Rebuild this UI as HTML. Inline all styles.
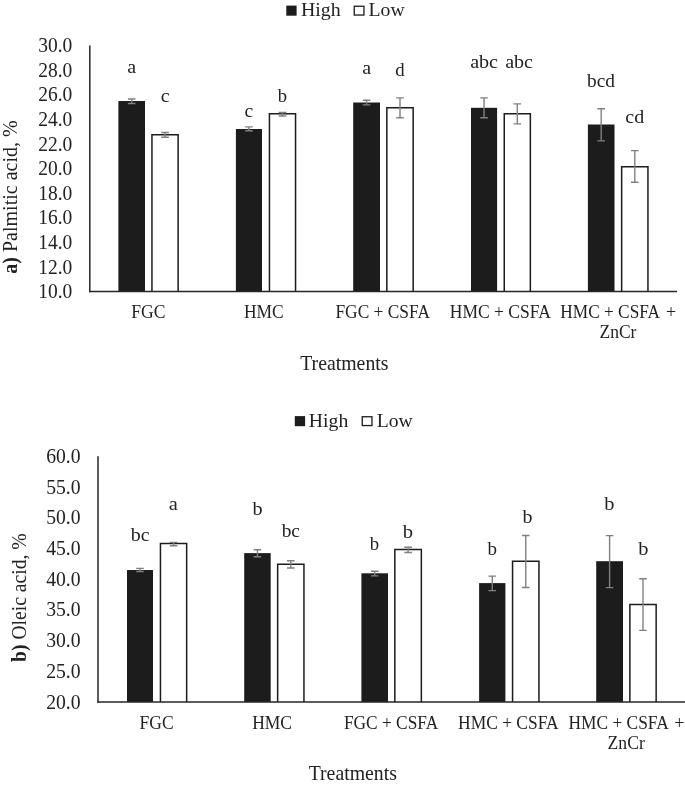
<!DOCTYPE html>
<html><head><meta charset="utf-8"><title>Chart</title>
<style>
html,body{margin:0;padding:0;background:#fff;overflow:hidden;}
svg{display:block;will-change:transform;}
text{font-family:"Liberation Serif",serif;fill:#222;}
</style></head>
<body>
<svg width="685" height="786" viewBox="0 0 685 786">
<rect width="685" height="786" fill="#fff"/>
<g id="chartA">
<rect x="118.4" y="101.0" width="26.60" height="190.60" fill="#1c1c1c"/>
<path d="M151.95 291.6V134.80H178.15V291.6" fill="#fff" stroke="#1c1c1c" stroke-width="1.5"/>
<rect x="235.9" y="129.0" width="26.10" height="162.60" fill="#1c1c1c"/>
<path d="M269.45 291.6V113.75H295.55V291.6" fill="#fff" stroke="#1c1c1c" stroke-width="1.5"/>
<rect x="353.2" y="102.5" width="26.80" height="189.10" fill="#1c1c1c"/>
<path d="M386.85 291.6V107.71H413.15V291.6" fill="#fff" stroke="#1c1c1c" stroke-width="1.5"/>
<rect x="471.0" y="107.8" width="26.10" height="183.80" fill="#1c1c1c"/>
<path d="M504.25 291.6V113.75H530.35V291.6" fill="#fff" stroke="#1c1c1c" stroke-width="1.5"/>
<rect x="587.9" y="124.5" width="26.60" height="167.10" fill="#1c1c1c"/>
<path d="M621.65 291.6V166.75H647.95V291.6" fill="#fff" stroke="#1c1c1c" stroke-width="1.5"/>
<line x1="89.8" y1="45.4" x2="89.8" y2="292.3" stroke="#262626" stroke-width="1.5"/>
<line x1="89.1" y1="291.6" x2="677.0" y2="291.6" stroke="#262626" stroke-width="1.5"/>
<path d="M131.70 99.0V103.5M127.90 99.0H135.50M127.90 103.5H135.50" stroke="#808080" stroke-width="1.4" fill="none"/>
<path d="M165.05 132.5V137.3M161.25 132.5H168.85M161.25 137.3H168.85" stroke="#808080" stroke-width="1.4" fill="none"/>
<path d="M248.95 126.9V130.7M245.15 126.9H252.75M245.15 130.7H252.75" stroke="#808080" stroke-width="1.4" fill="none"/>
<path d="M282.50 112.5V116.0M278.70 112.5H286.30M278.70 116.0H286.30" stroke="#808080" stroke-width="1.4" fill="none"/>
<path d="M366.60 100.2V104.85M362.80 100.2H370.40M362.80 104.85H370.40" stroke="#808080" stroke-width="1.4" fill="none"/>
<path d="M400.00 97.85V117.7M396.20 97.85H403.80M396.20 117.7H403.80" stroke="#808080" stroke-width="1.4" fill="none"/>
<path d="M484.05 97.85V117.8M480.25 97.85H487.85M480.25 117.8H487.85" stroke="#808080" stroke-width="1.4" fill="none"/>
<path d="M517.30 103.9V123.9M513.50 103.9H521.10M513.50 123.9H521.10" stroke="#808080" stroke-width="1.4" fill="none"/>
<path d="M601.20 108.8V140.9M597.40 108.8H605.00M597.40 140.9H605.00" stroke="#808080" stroke-width="1.4" fill="none"/>
<path d="M634.80 150.6V182.3M631.00 150.6H638.60M631.00 182.3H638.60" stroke="#808080" stroke-width="1.4" fill="none"/>
<text transform="translate(38.20 52.10) scale(0.9743 1)" font-size="20">30.0</text>
<text transform="translate(38.20 76.72) scale(0.9743 1)" font-size="20">28.0</text>
<text transform="translate(38.20 101.34) scale(0.9743 1)" font-size="20">26.0</text>
<text transform="translate(38.20 125.96) scale(0.9743 1)" font-size="20">24.0</text>
<text transform="translate(38.20 150.58) scale(0.9743 1)" font-size="20">22.0</text>
<text transform="translate(38.20 175.20) scale(0.9743 1)" font-size="20">20.0</text>
<text transform="translate(38.20 199.82) scale(0.9743 1)" font-size="20">18.0</text>
<text transform="translate(38.20 224.44) scale(0.9743 1)" font-size="20">16.0</text>
<text transform="translate(38.20 249.06) scale(0.9743 1)" font-size="20">14.0</text>
<text transform="translate(38.20 273.68) scale(0.9743 1)" font-size="20">12.0</text>
<text transform="translate(38.20 298.30) scale(0.9743 1)" font-size="20">10.0</text>
<text transform="translate(127.15 73.10) scale(1.0204 1)" font-size="19.6">a</text>
<text transform="translate(160.75 101.70) scale(1.0204 1)" font-size="19.6">c</text>
<text transform="translate(244.55 117.00) scale(0.9975 1)" font-size="19.6">c</text>
<text transform="translate(277.75 102.30) scale(0.9490 1)" font-size="19.6">b</text>
<text transform="translate(362.15 74.20) scale(1.0204 1)" font-size="19.6">a</text>
<text transform="translate(395.15 75.70) scale(0.9592 1)" font-size="19.6">d</text>
<text transform="translate(470.15 67.80) scale(1.0259 1)" font-size="19.6">abc</text>
<text transform="translate(505.15 67.80) scale(1.0259 1)" font-size="19.6">abc</text>
<text transform="translate(587.05 86.50) scale(0.9886 1)" font-size="19.6">bcd</text>
<text transform="translate(625.35 123.00) scale(1.0204 1)" font-size="19.6">cd</text>
<text transform="translate(131.35 317.80) scale(0.9505 1)" font-size="18.5">FGC</text>
<text transform="translate(243.95 317.80) scale(0.9446 1)" font-size="18.5">HMC</text>
<text transform="translate(335.45 317.80) scale(0.9404 1)" font-size="18.5">FGC + CSFA</text>
<text transform="translate(449.85 317.90) scale(0.9471 1)" font-size="18.5">HMC + CSFA</text>
<text transform="translate(560.35 317.90) scale(0.9349 1)" font-size="18.5">HMC + CSFA</text>
<text transform="translate(665.95 317.90) scale(0.9663 1)" font-size="18.5">+</text>
<text transform="translate(599.45 338.20) scale(0.9479 1)" font-size="18.5">ZnCr</text>
<text transform="translate(300.15 369.70) scale(0.9905 1)" font-size="20">Treatments</text>
<text transform="translate(16.50 273.70) rotate(-90) scale(1.0006 1)" font-size="20"><tspan font-weight="bold">a)</tspan> Palmitic acid, %</text>
<rect x="286.3" y="5.6" width="10.3" height="10.1" fill="#1c1c1c"/>
<text transform="translate(300.90 15.60) scale(1.0461 1)" font-size="19">High</text>
<rect x="354.25" y="6.25" width="9.7" height="8.799999999999999" fill="#fff" stroke="#1c1c1c" stroke-width="1.3"/>
<text transform="translate(368.45 15.60) scale(1.0397 1)" font-size="19">Low</text>
</g>
<g id="chartB">
<rect x="127.0" y="570.0" width="26.00" height="132.00" fill="#1c1c1c"/>
<path d="M160.45 702.0V543.50H186.65V702.0" fill="#fff" stroke="#1c1c1c" stroke-width="1.5"/>
<rect x="244.2" y="553.1" width="26.50" height="148.90" fill="#1c1c1c"/>
<path d="M277.65 702.0V564.15H303.95V702.0" fill="#fff" stroke="#1c1c1c" stroke-width="1.5"/>
<rect x="361.4" y="573.3" width="26.60" height="128.70" fill="#1c1c1c"/>
<path d="M394.85 702.0V549.55H421.35V702.0" fill="#fff" stroke="#1c1c1c" stroke-width="1.5"/>
<rect x="479.1" y="583.1" width="26.30" height="118.90" fill="#1c1c1c"/>
<path d="M512.55 702.0V561.35H538.95V702.0" fill="#fff" stroke="#1c1c1c" stroke-width="1.5"/>
<rect x="596.2" y="561.2" width="26.80" height="140.80" fill="#1c1c1c"/>
<path d="M629.85 702.0V604.55H656.15V702.0" fill="#fff" stroke="#1c1c1c" stroke-width="1.5"/>
<line x1="98.0" y1="456.2" x2="98.0" y2="702.7" stroke="#262626" stroke-width="1.5"/>
<line x1="97.3" y1="702.0" x2="686" y2="702.0" stroke="#262626" stroke-width="1.5"/>
<path d="M140.00 568.4V571.5M136.20 568.4H143.80M136.20 571.5H143.80" stroke="#808080" stroke-width="1.4" fill="none"/>
<path d="M173.55 542.4V545.7M169.75 542.4H177.35M169.75 545.7H177.35" stroke="#808080" stroke-width="1.4" fill="none"/>
<path d="M257.45 549.7V556.8M253.65 549.7H261.25M253.65 556.8H261.25" stroke="#808080" stroke-width="1.4" fill="none"/>
<path d="M290.80 560.7V568.05M287.00 560.7H294.60M287.00 568.05H294.60" stroke="#808080" stroke-width="1.4" fill="none"/>
<path d="M374.70 571.2V575.9M370.90 571.2H378.50M370.90 575.9H378.50" stroke="#808080" stroke-width="1.4" fill="none"/>
<path d="M408.10 547.3V552.5M404.30 547.3H411.90M404.30 552.5H411.90" stroke="#808080" stroke-width="1.4" fill="none"/>
<path d="M492.25 576.1V590.6M488.45 576.1H496.05M488.45 590.6H496.05" stroke="#808080" stroke-width="1.4" fill="none"/>
<path d="M525.75 535.5V587.5M521.95 535.5H529.55M521.95 587.5H529.55" stroke="#808080" stroke-width="1.4" fill="none"/>
<path d="M609.60 535.6V587.6M605.80 535.6H613.40M605.80 587.6H613.40" stroke="#808080" stroke-width="1.4" fill="none"/>
<path d="M643.00 578.7V630.4M639.20 578.7H646.80M639.20 630.4H646.80" stroke="#808080" stroke-width="1.4" fill="none"/>
<text transform="translate(46.20 462.80) scale(0.9829 1)" font-size="20">60.0</text>
<text transform="translate(46.20 493.53) scale(0.9829 1)" font-size="20">55.0</text>
<text transform="translate(46.20 524.25) scale(0.9829 1)" font-size="20">50.0</text>
<text transform="translate(46.20 554.98) scale(0.9829 1)" font-size="20">45.0</text>
<text transform="translate(46.20 585.70) scale(0.9829 1)" font-size="20">40.0</text>
<text transform="translate(46.20 616.43) scale(0.9829 1)" font-size="20">35.0</text>
<text transform="translate(46.20 647.15) scale(0.9829 1)" font-size="20">30.0</text>
<text transform="translate(46.20 677.88) scale(0.9829 1)" font-size="20">25.0</text>
<text transform="translate(46.20 708.60) scale(0.9829 1)" font-size="20">20.0</text>
<text transform="translate(130.75 541.10) scale(1.0150 1)" font-size="19.6">bc</text>
<text transform="translate(168.75 510.40) scale(1.0433 1)" font-size="19.6">a</text>
<text transform="translate(252.45 514.80) scale(1.0306 1)" font-size="19.6">b</text>
<text transform="translate(281.65 537.30) scale(0.9880 1)" font-size="19.6">bc</text>
<text transform="translate(369.85 550.40) scale(0.9592 1)" font-size="19.6">b</text>
<text transform="translate(402.85 537.60) scale(1.0510 1)" font-size="19.6">b</text>
<text transform="translate(487.45 554.80) scale(0.9694 1)" font-size="19.6">b</text>
<text transform="translate(522.55 523.00) scale(1.0204 1)" font-size="19.6">b</text>
<text transform="translate(604.35 509.70) scale(1.0408 1)" font-size="19.6">b</text>
<text transform="translate(638.15 554.50) scale(1.0408 1)" font-size="19.6">b</text>
<text transform="translate(139.55 728.60) scale(0.9477 1)" font-size="18.5">FGC</text>
<text transform="translate(252.15 728.60) scale(0.9470 1)" font-size="18.5">HMC</text>
<text transform="translate(343.95 728.60) scale(0.9374 1)" font-size="18.5">FGC + CSFA</text>
<text transform="translate(458.05 728.60) scale(0.9434 1)" font-size="18.5">HMC + CSFA</text>
<text transform="translate(568.55 728.60) scale(0.9396 1)" font-size="18.5">HMC + CSFA</text>
<text transform="translate(674.35 728.60) scale(0.9758 1)" font-size="18.5">+</text>
<text transform="translate(607.55 748.80) scale(0.9530 1)" font-size="18.5">ZnCr</text>
<text transform="translate(308.65 780.00) scale(0.9894 1)" font-size="20">Treatments</text>
<text transform="translate(25.80 661.90) rotate(-90) scale(0.9811 1)" font-size="20"><tspan font-weight="bold">b)</tspan> Oleic acid, %</text>
<rect x="294.8" y="416.1" width="10.3" height="10.1" fill="#1c1c1c"/>
<text transform="translate(308.85 426.80) scale(1.0368 1)" font-size="19">High</text>
<rect x="362.25" y="416.75" width="9.7" height="8.799999999999999" fill="#fff" stroke="#1c1c1c" stroke-width="1.3"/>
<text transform="translate(376.65 426.80) scale(1.0340 1)" font-size="19">Low</text>
</g>
</svg>
</body></html>
